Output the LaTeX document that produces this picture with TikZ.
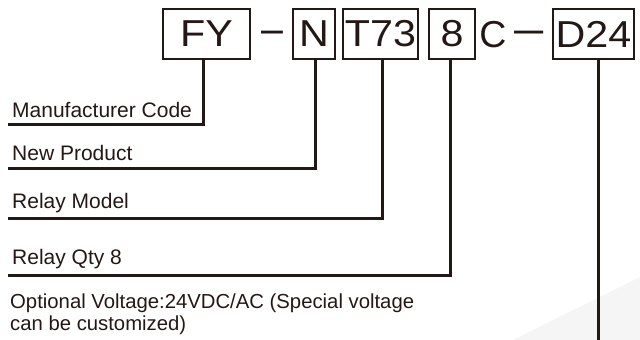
\documentclass[tikz,border=0pt]{standalone}
\usepackage{fontspec}
\setmainfont{Liberation Sans}
\usepackage{graphicx}
\definecolor{ink}{HTML}{231815}
\begin{document}
\begin{tikzpicture}[x=1pt,y=-1pt,
  codebox/.style={draw=ink,line width=2.5pt,minimum height=50pt,inner sep=0pt,text=ink,font=\fontsize{37.5}{40}\selectfont},
  glyph/.style={anchor=base,inner sep=0pt,text=ink,font=\fontsize{37.5}{40}\selectfont},
  lbl/.style={anchor=base west,inner sep=0pt,text=ink,font=\fontsize{21}{25}\selectfont},
  lead/.style={draw=ink,line width=3pt,line join=miter}]
\useasboundingbox (0,0) rectangle (640,340);
\fill[black!4] (513,340) -- (640,277) -- (640,340) -- cycle;
% code boxes
\node[codebox,minimum width=87pt] (fy)  at (206.5,34) {\scalebox{1.1}[1]{FY}};
\node[codebox,minimum width=42pt] (n)   at (314,34)   {\scalebox{1.1}[1]{N}};
\node[codebox,minimum width=75pt] (t73) at (380.5,34) {\scalebox{1.1}[1]{T73}};
\node[codebox,minimum width=46pt] (q8)  at (452,34)   {\scalebox{1.1}[1]{8}};
\node[codebox,minimum width=81pt] (d24) at (593.5,34) {\scalebox{1.1}[1]{D24}};
% inline characters
\node[glyph] (dash1) at (272.5,43) {\scalebox{1.05}[1.15]{–}};
\node[glyph] (cc)    at (493,47.5) {C};
\node[glyph] (dash2) at (529,43)   {\scalebox{1.4}[1.15]{–}};
% labels
\node[lbl] (mc) at (12,117) {Manufacturer Code};
\node[lbl] (np) at (12,160) {New Product};
\node[lbl] (rm) at (12,208) {Relay Model};
\node[lbl] (rq) at (12,264) {Relay Qty 8};
\node[anchor=north west,inner sep=0pt,text=ink,align=left,font=\fontsize{20.3}{22}\selectfont] (ov) at (10,294)
  {Optional Voltage:24VDC/AC (Special voltage\\can be customized)};
% leader end points
\coordinate (mcEnd) at (8,124);
\coordinate (npEnd) at (8,168);
\coordinate (rmEnd) at (8,218);
\coordinate (rqEnd) at (8,275);
\coordinate (dEnd)  at (598,340);
% leaders
\draw[lead] ([xshift=-3.5pt]fy.south) |- (mcEnd);
\draw[lead] ([xshift=1pt]n.south) |- (npEnd);
\draw[lead] ([xshift=1.5pt]t73.south) |- (rmEnd);
\draw[lead] ([xshift=-2pt]q8.south) |- (rqEnd);
\draw[lead] ([xshift=4.5pt]d24.south) -- (dEnd);
\end{tikzpicture}
\end{document}
